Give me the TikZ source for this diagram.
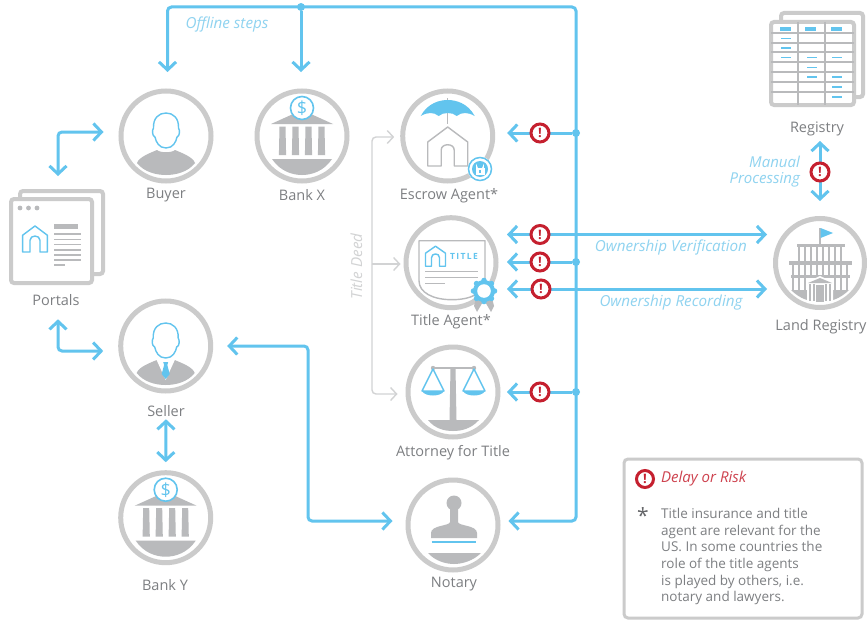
\documentclass[tikz,border=0pt]{standalone}
\usepackage{fontspec}
\setmainfont{Open Sans}
\usetikzlibrary{arrows.meta,calc}
\definecolor{flowblue}{HTML}{62C4EE}
\definecolor{ringgray}{HTML}{CBCBCB}
\definecolor{icongray}{HTML}{B9BABC}
\definecolor{textgray}{HTML}{7D7F82}
\definecolor{alertred}{HTML}{C5202F}
\definecolor{labelblue}{HTML}{8FD3F0}
\definecolor{deedgray}{HTML}{D2D3D4}
\tikzset{
  ring/.style={circle,draw=ringgray,line width=5pt,minimum size=90pt,inner sep=0pt,fill=white},
  lbl/.style={text=textgray,font=\fontsize{14.5}{16}\selectfont,inner sep=0pt,yshift=-1.5pt},
  note/.style={text=labelblue,font=\fontsize{15.2}{16}\selectfont\itshape,inner sep=0pt,yshift=-1.5pt},
  flow/.style={draw=flowblue,line width=3pt,rounded corners=4pt},
  tipE/.style={-{Straight Barb[length=8pt,width=17pt,line width=3pt]}},
  tipB/.style={{Straight Barb[length=8pt,width=17pt,line width=3pt]}-{Straight Barb[length=8pt,width=17pt,line width=3pt]}},
  junction/.style={circle,fill=flowblue,minimum size=8pt,inner sep=0pt},
  alert/.style={circle,draw=alertred,line width=3pt,fill=white,minimum size=18pt,inner sep=0pt,text=alertred,font=\fontsize{13}{13}\selectfont\bfseries},
  deed/.style={draw=deedgray,line width=1.4pt,rounded corners=4pt},
  deedtip/.style={-{Straight Barb[length=6pt,width=13pt,line width=1.4pt]}},
  sheet/.style={draw=ringgray,line width=4pt,rounded corners=3pt,fill=white},
  thinblue/.style={draw=flowblue,line width=1.4pt,line join=round},
  thingray/.style={draw=icongray,line width=1.4pt,line join=round},
  bluedash/.style={draw=flowblue,line width=1.8pt},
}
\newcommand{\headshape}{
  \draw[thinblue,fill=white] (0,12) .. controls (-7,12) and (-10,6) .. (-11,1)
    .. controls (-14,0) and (-14,-6) .. (-12.5,-8)
    .. controls (-13,-18) and (-7,-23) .. (0,-23)
    .. controls (7,-23) and (13,-18) .. (12.5,-8)
    .. controls (14,-6) and (14,0) .. (11,1)
    .. controls (10,6) and (7,12) .. (0,12) -- cycle;
}
\newcommand{\bustshape}{
  \fill[icongray] (-29,27) .. controls (-27,21) and (-16,17) .. (-9,14)
    .. controls (-6,17) and (6,17) .. (9,14)
    .. controls (16,17) and (27,21) .. (29,27)
    .. controls (22,36) and (10,39) .. (0,39)
    .. controls (-10,39) and (-22,36) .. (-29,27) -- cycle;
}
\newcommand{\baseshape}{
  \fill[icongray] (-30,23) -- (30,23) .. controls (22,35) and (10,39) .. (0,39)
    .. controls (-10,39) and (-22,35) .. (-30,23) -- cycle;
}
\newcommand{\houseshape}[1]{
  \draw[#1] (-20,30) -- (-20,6) -- (0,-9) -- (20,6) -- (20,30) -- (6.5,30) -- (6.5,14)
    .. controls (6.5,7) and (-6.5,7) .. (-6.5,14) -- (-6.5,30) -- cycle;
}
\newcommand{\bankicon}[3]{
  \begin{scope}[shift={(#1,#2)}]
    \fill[icongray] (-31,-12) -- (0,-26) -- (31,-12) -- cycle;
    \foreach \cx in {-19.5,-6.5,6.5,19.5}{
      \fill[icongray] (\cx-3,-9.5) -- (\cx+3,-9.5) -- (\cx+3.6,19) -- (\cx-3.6,19) -- cycle;
    }
    \baseshape
    \node[circle,draw=flowblue,line width=1.6pt,fill=white,minimum size=23pt,inner sep=0pt,
      text=flowblue,font=\fontsize{18}{18}\selectfont] (coin#3) at (0,-28) {\$};
  \end{scope}
}
\begin{document}
\begin{tikzpicture}[x=1pt,y=-1pt]
\useasboundingbox (0,0) rectangle (867,626);
\fill[white] (0,0) rectangle (867,626);

% hubs
\node[ring] (buyer) at (166,136) {};
\node[ring] (bankx) at (302,136) {};
\node[ring] (escrow) at (447.7,136) {};
\node[ring] (title) at (451,262.7) {};
\node[ring] (attorney) at (453,392) {};
\node[ring] (notary) at (453,525) {};
\node[ring] (seller) at (165.7,346) {};
\node[ring] (banky) at (165.7,517.7) {};
\node[ring,minimum size=89pt] (land) at (820,263) {};

% labels
\node[lbl] (lBuyer) at (166,194) {Buyer};
\node[lbl] (lBankx) at (302,194) {Bank X};
\node[lbl] (lEscrow) at (449,194) {Escrow Agent*};
\node[lbl] (lTitle) at (451,320) {Title Agent*};
\node[lbl] (lAttorney) at (453,451) {Attorney for Title};
\node[lbl] (lNotary) at (454,583) {Notary};
\node[lbl] (lSeller) at (166,410) {Seller};
\node[lbl] (lBanky) at (165,584) {Bank Y};
\node[lbl] (lPortals) at (56,299) {Portals};
\node[lbl] (lRegistry) at (817,127) {Registry};
\node[lbl] (lLand) at (821,325) {Land Registry};
\node[note] (nOffline) at (227,23) {Offline steps};
\node[note,align=right,anchor=east,font=\fontsize{15}{16.5}\selectfont\itshape] (nManual) at (800,170) {Manual\\Processing};
\node[note] (nVerify) at (671,246) {Ownership Verification};
\node[note] (nRecord) at (671,301) {Ownership Recording};
\node[note,text=deedgray,rotate=90,yshift=1.5pt] (nDeed) at (358,265) {Title Deed};

% portals
\node[sheet,minimum width=83pt,minimum height=83pt,inner sep=0pt] (portalBack) at (61.5,232.5) {};
\node[sheet,minimum width=81pt,minimum height=84pt,inner sep=0pt] (portals) at (51.5,241) {};
\foreach \dx in {20,28.5,37}{\fill[icongray] (\dx,208) circle (2.4);}
\begin{scope}[shift={(35,239)},scale=0.62]
  \draw[thinblue] (-20,21) -- (-20,-6) -- (0,-21) -- (20,-6) -- (20,21) -- (8,21) -- (8,2)
    .. controls (8,-7) and (-8,-7) .. (-8,2) -- (-8,21) -- cycle;
\end{scope}
\fill[icongray] (54,224) rectangle (78,229);
\foreach \ly in {234,239.5,244.5,250,255,260}{\draw[icongray,line width=1.1pt] (54,\ly) -- (81,\ly);}
\draw[icongray,line width=1.1pt] (54,265) -- (65,265);

% registry table
\node[sheet,minimum width=82pt,minimum height=84pt,inner sep=0pt] (registryBack) at (822,55) {};
\node[sheet,minimum width=83pt,minimum height=83pt,inner sep=0pt] (registry) at (812.5,63.5) {};
\foreach \ly in {33,43,52,62,72,82,92}{\draw[icongray,line width=1.1pt] (771,\ly) -- (854,\ly);}
\foreach \lx in {798,825}{\draw[icongray,line width=1.1pt] (\lx,22) -- (\lx,105);}
\foreach \lx in {779.5,805,831}{\fill[flowblue] (\lx,27) rectangle +(11,4.5);}
\foreach \lx/\ly in {781/38.5,781/48,781/57.5,807/57.5,832/57.5,807/67.5,807/77,832/77,832/87,832/97}{
  \draw[bluedash] (\lx,\ly) -- +(10,0);}

% people
\begin{scope}[shift={(166,136)}]\bustshape\headshape\end{scope}
\begin{scope}[shift={(165.7,346)}]
  \bustshape
  \fill[white] (-10,12) -- (10,12) -- (0,34) -- cycle;
  \headshape
  \fill[flowblue] (-2.5,16) -- (2.5,16) -- (1.6,19) -- (4,28) -- (0,33) -- (-4,28) -- (-1.6,19) -- cycle;
\end{scope}

% banks
\bankicon{302}{136}{X}
\bankicon{165.7}{517.7}{Y}

% escrow icon
\begin{scope}[shift={(447.7,136)}]
  \draw[icongray,line width=1.5pt] (0,-38) -- (0,-12);
  \fill[flowblue] (-27,-20) .. controls (-20,-33) and (-8,-36) .. (0,-36)
    .. controls (8,-36) and (20,-33) .. (27,-20)
    .. controls (20,-24) and (14,-24) .. (9,-20)
    .. controls (5,-24) and (-5,-24) .. (-9,-20)
    .. controls (-14,-24) and (-20,-24) .. (-27,-20) -- cycle;
  \houseshape{thingray}
\end{scope}
\fill[white] (480,169) circle (12.5);
\draw[flowblue,line width=1.5pt] (480,169) circle (11.5);
\fill[flowblue] (480,169) circle (8);
\fill[white] (475.5,168) rectangle (484.5,174.5);
\draw[white,line width=1.3pt] (476.8,168) -- (476.8,167) arc[start angle=180,end angle=0,radius=3.2] -- (483.2,168);
\fill[flowblue] (479.2,169.5) rectangle (480.8,173);

% title certificate
\begin{scope}[shift={(451,262.7)}]
  \draw[thingray,fill=white] (-32,-22) -- (34,-22) -- (34,18)
    .. controls (34,30) and (20,37) .. (1,37)
    .. controls (-18,37) and (-32,30) .. (-32,18) -- cycle;
  \draw[thingray] (-26,9) -- (27,9);
  \draw[thingray] (-26,15) -- (27,15);
  \draw[thingray] (-26,20.5) -- (-6,20.5);
  \begin{scope}[shift={(-15.5,-6.5)},scale=0.5]
    \draw[thinblue] (-20,20) -- (-20,-6) -- (0,-20) -- (20,-6) -- (20,20) -- (8,20) -- (8,3)
      .. controls (8,-7) and (-8,-7) .. (-8,3) -- (-8,20) -- cycle;
  \end{scope}
  \node[inner sep=0pt,text=flowblue,font=\fontsize{8.5}{9}\selectfont\bfseries] (titleWord) at (13,-6) {T\,I\,T\,L\,E};
\end{scope}
\fill[icongray] (476,298) -- (484,300) -- (477,312) -- (474,306) -- cycle;
\fill[icongray] (492,298) -- (484,300) -- (491,312) -- (494,306) -- cycle;
\foreach \ga in {0,45,...,315}{\fill[flowblue] (484,291) ++(\ga:10.5) circle (2.8);}
\fill[flowblue] (484,291) circle (11);
\fill[white] (484,291) circle (6.8);

% scale
\begin{scope}[shift={(453,392)}]
  \fill[icongray] (-2.5,-24) -- (2.5,-24) -- (3.5,28) -- (-3.5,28) -- cycle;
  \draw[icongray,line width=2pt] (-20,-24) -- (21,-24);
  \fill[icongray] (-20,-24) circle (2.2) (21,-24) circle (2.2);
  \draw[thinblue] (-20,-23) -- (-31,-1) -- (-9,-1) -- cycle;
  \draw[thinblue] (21,-23) -- (10,-1) -- (32,-1) -- cycle;
  \fill[flowblue] (-31,-1) -- (-9,-1) .. controls (-12,5) and (-28,5) .. (-31,-1) -- cycle;
  \fill[flowblue] (10,-1) -- (32,-1) .. controls (29,5) and (13,5) .. (10,-1) -- cycle;
  \fill[icongray] (-25,28) -- (26,28) .. controls (18,37) and (8,39) .. (0,39)
    .. controls (-8,39) and (-18,37) .. (-25,28) -- cycle;
\end{scope}

% stamp
\begin{scope}[shift={(453,525)}]
  \fill[icongray] (1,-22) circle (7.5);
  \fill[icongray] (-3,-16) -- (5,-16) -- (5,-3) .. controls (5,1) and (24,0) .. (24,8) -- (24,13) -- (-22,13) -- (-22,8)
    .. controls (-22,0) and (-3,1) .. (-3,-3) -- cycle;
  \draw[flowblue,line width=2.4pt] (-21.5,17) -- (23,17);
  \fill[icongray] (-25,28) -- (28,28) .. controls (20,36) and (9,39) .. (1,39)
    .. controls (-7,39) and (-18,36) .. (-25,28) -- cycle;
\end{scope}

% land registry building
\begin{scope}[shift={(820,263)}]
  \draw[icongray,line width=1.5pt] (0,-35) -- (0,-18);
  \fill[flowblue] (0.5,-35) -- (13,-30) -- (0.5,-25) -- cycle;
  \fill[icongray] (-23,-19) rectangle (25,-16);
  \foreach \bx in {-21,-15,-9,-3,3,9,15,21}{\draw[icongray,line width=1.6pt] (\bx,-16) -- (\bx,-2);}
  \fill[icongray] (-31,-2) rectangle (32,1.5);
  \foreach \bx in {-27,-21,-15,-9,-3,3,9,15,21,27}{\draw[icongray,line width=1.6pt] (\bx,1) -- (\bx,12);}
  \fill[icongray] (-29,11.5) rectangle (30,14.5);
  \foreach \bx in {-27,-21,-15,15,21,27}{\draw[icongray,line width=1.6pt] (\bx,14) -- (\bx,28);}
  \fill[icongray] (-29,27) .. controls (-20,36) and (-10,39) .. (0,39)
    .. controls (10,39) and (20,36) .. (29,27) -- cycle;
  \fill[white] (-13,19) -- (0,13) -- (13,19) -- (13,40) -- (-13,40) -- cycle;
  \fill[icongray] (-12,20) -- (0,15) -- (12,20) -- cycle;
  \foreach \bx in {-10,-6,6,10}{\draw[icongray,line width=1.6pt] (\bx,21) -- (\bx,38);}
  \fill[icongray] (-4,22) rectangle (4,39);
\end{scope}

% title deed connectors
\coordinate (deedFork) at (372,264);
\draw[deed,deedtip,shorten >=3pt] (deedFork) -- (deedFork -| title.west);
\draw[deed,deedtip,shorten >=6pt] (deedFork) -- (372,137) -- (escrow.west |- 0,137);
\draw[deed,deedtip,shorten >=8pt] (deedFork) -- (372,394) -- (attorney.west |- 0,394);

% main rail
\coordinate (railTop) at (576,7);
\node[junction] (jTop) at (301,7) {};
\node[junction] (jEscrow) at (576,133) {};
\node[junction] (jTitle) at (576,262) {};
\node[junction] (jAttorney) at (576,392) {};
\draw[flow,tipB,shorten <=16.5pt,shorten >=8pt] ([xshift=1.5pt]buyer.north) -- (167.5,7) -- (railTop) -- (576,521) -- ([yshift=4pt]notary.east);
\draw[flow,tipE,shorten >=16.5pt] (jTop) -- ([xshift=-1pt]bankx.north);
\draw[flow,tipE,shorten >=12pt] (jEscrow) -- (jEscrow -| escrow.east);
\draw[flow,tipE,shorten >=8.5pt] (jTitle) -- (jTitle -| title.east);
\draw[flow,tipE,shorten >=6.5pt] (jAttorney) -- (jAttorney -| attorney.east);

% title to land registry
\coordinate (rowVerify) at (640,234.5);
\coordinate (rowRecord) at (640,289);
\draw[flow,tipB,shorten <=8.5pt,shorten >=6pt] (rowVerify -| title.east) -- (rowVerify -| land.west);
\draw[flow,tipB,shorten <=8.5pt,shorten >=6pt] (rowRecord -| title.east) -- (rowRecord -| land.west);

% left side
\draw[flow,tipB,shorten <=15pt,shorten >=21pt] ([yshift=4pt]buyer.west) -- (58,132) -- (58,197);
\draw[flow,tipB,shorten <=15pt,shorten >=13pt] ([yshift=-5pt]seller.west) -- (58,351) -- ([xshift=2pt]lPortals.south);
\draw[flow,tipB,shorten <=14pt,shorten >=13pt] (seller.east) -- (308,346) -- (308,521) -- ([yshift=4pt]notary.west);
\draw[flow,tipB,shorten <=2pt,shorten >=8pt] (lSeller.south) -- (banky.north);

% registry to land registry
\draw[flow,tipB,shorten <=34pt,shorten >=15pt] ([xshift=7.5pt]registry.south) -- (land.north);

% alert markers
\node[alert] (a1) at (540,133) {!};
\node[alert] (a2) at (540,234.5) {!};
\node[alert] (a3) at (540,262) {!};
\node[alert] (a4) at (541,289) {!};
\node[alert] (a5) at (540,392) {!};
\node[alert] (a6) at (820,172) {!};

% legend
\node[draw=ringgray,line width=3pt,rounded corners=4pt,minimum width=238pt,minimum height=159pt,inner sep=0pt] (legend) at (743,538.5) {};
\node[alert,minimum size=17pt] (a7) at (645,479) {!};
\node[anchor=west,inner sep=0pt,text=alertred!85,font=\fontsize{15}{16}\selectfont\itshape] (legendHead) at (661,479) {Delay or Risk};
\node[inner sep=0pt,text=textgray!80!black,font=\fontsize{21}{21}\selectfont] (legendStar) at (643,516) {*};
\node[anchor=north west,inner sep=0pt,align=left,text=textgray,font=\fontsize{13.5}{16.7}\selectfont] (legendText) at (661,508) {Title insurance and title\\agent are relevant for the\\US. In some countries the\\role of the title agents\\is played by others, i.e.\\notary and lawyers.};
\end{tikzpicture}
\end{document}
